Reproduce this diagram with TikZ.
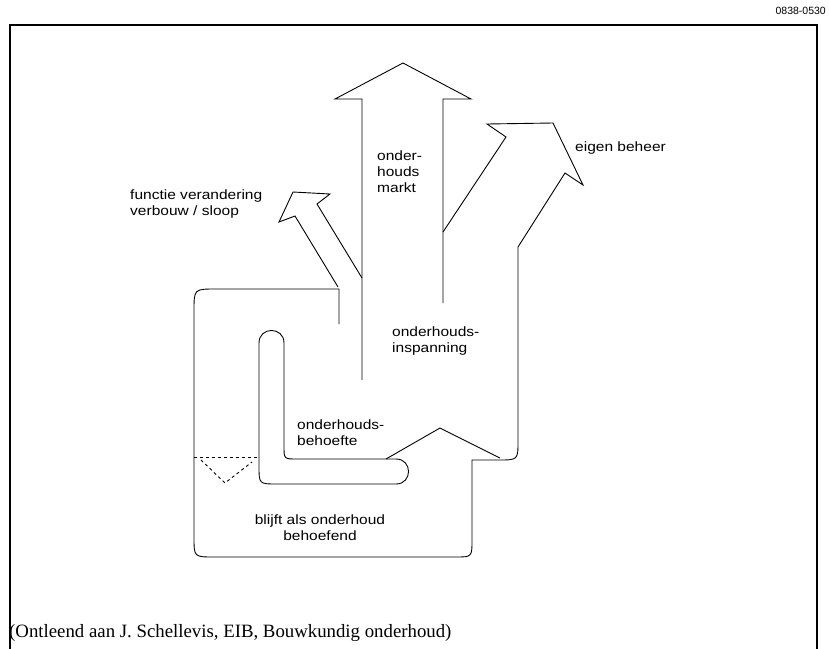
\documentclass[tikz,border=0pt]{standalone}
\usepackage{fontspec}
\setmainfont{Liberation Serif}
\newfontfamily\lblfont[FakeStretch=1.15]{Liberation Sans}
\newfontfamily\numfont{Liberation Sans}

\begin{document}
\begin{tikzpicture}[x=1pt, y=-1pt,
    flow/.style={line width=0.9pt},
    txt/.style={font=\lblfont\fontsize{13.5}{16}\selectfont, inner sep=0pt, align=left, anchor=north west}
]
\useasboundingbox (0,0) rectangle (829,648);

% Frame and code
\draw[line width=2.5pt] (10,690) -- (10,25) -- (817,25) -- (817,690);
\node[font=\numfont\fontsize{10.5}{12}\selectfont, inner sep=0pt, anchor=north east] (code) at (826,7) {0838-0530};

% Outer loop with eigen beheer arrow
\draw[flow] (339,324) -- (339,289) -- (216,289) .. controls (194,289) .. (194,311)
    -- (194,537) .. controls (194,557) .. (214,557) -- (455,557) .. controls (472,557) .. (472,540)
    -- (472,460) -- (498,460) .. controls (518,460) .. (518,441) -- (518,247)
    -- (565,173) -- (583,185) -- (553,123) -- (487,124) -- (506,137) -- (443,232);

% Onderhoudsmarkt arrow
\draw[flow] (443,303) -- (443,99) -- (471,99) -- (403,63) -- (335,99) -- (362,99) -- (362,380);

% Functie verandering arrow
\draw[flow] (362,278) -- (317,204) -- (330,194) -- (293,192) -- (279,222) -- (295,216) -- (338,287);

% Onderhoudsbehoefte (L shape)
\draw[flow] (259,343) .. controls (259,326.3) and (284,326.3) .. (284,343)
    -- (284,446) .. controls (284,459) .. (297,459) -- (396,459)
    .. controls (412.7,459) and (412.7,484) .. (396,484)
    -- (277,484) .. controls (259,484) .. (259,466) -- cycle;
\draw[flow] (386,459) -- (440,428) -- (500,458);

% Dashed part
\draw[flow, dashed] (194,457) -- (259,457);
\draw[flow, dashed] (201,460) -- (225,483) -- (252,462);

% Labels
\node[txt] (markt) at (377,151) {onder-\\houds\\markt};
\node[txt] (insp) at (392,327) {onderhouds-\\inspanning};
\node[txt] (behoefte) at (297,420) {onderhouds-\\behoefte};
\node[txt] (functie) at (130,190) {functie verandering\\verbouw / sloop};
\node[txt] (eigen) at (575,142) {eigen beheer};
\node[txt, align=center, anchor=north] (blijft) at (320,515) {blijft als onderhoud\\behoefend};
\node[font=\fontsize{18.8}{20}\selectfont, inner sep=0pt, anchor=base west] (bron) at (9,637) {(Ontleend aan J. Schellevis, EIB, Bouwkundig onderhoud)};

\end{tikzpicture}
\end{document}
